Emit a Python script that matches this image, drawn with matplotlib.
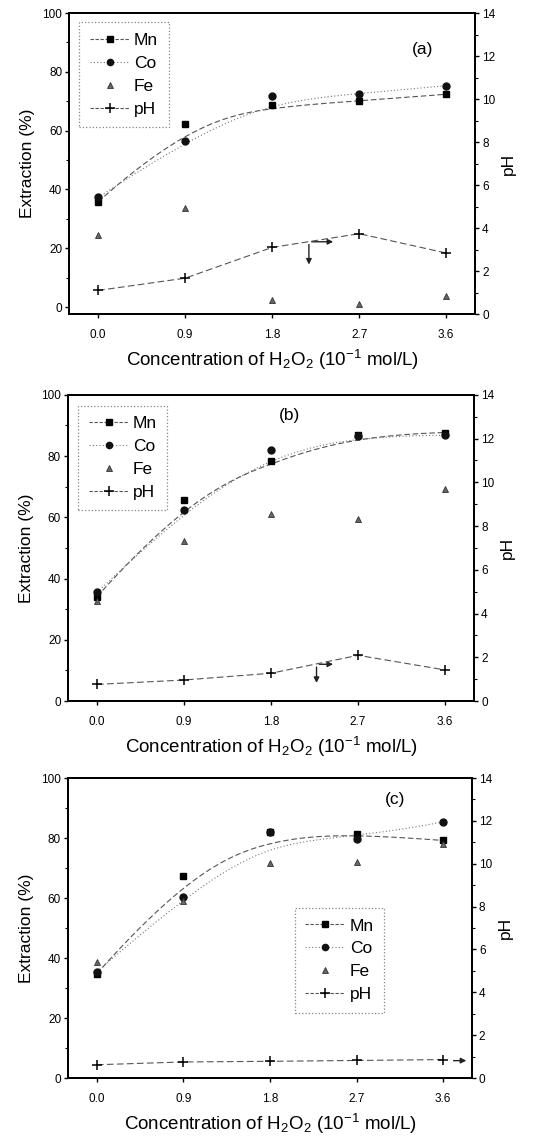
import numpy as np
import matplotlib
matplotlib.use("Agg")
import matplotlib.pyplot as plt
from matplotlib.lines import Line2D

plt.rcParams['font.family'] = ['Liberation Sans', 'DejaVu Sans']
plt.rcParams['mathtext.fontset'] = 'custom'
plt.rcParams['mathtext.rm'] = 'Liberation Sans'
plt.rcParams['mathtext.it'] = 'Liberation Sans:italic'

# H2O2 concentration (10^-1 mol/L)
conc = [0.0, 0.9, 1.8, 2.7, 3.6]

# panel (a)
mn_a = [35.8, 62.2, 68.8, 70.0, 72.4]
co_a = [37.3, 56.6, 71.7, 72.4, 75.3]
fe_a = [24.4, 33.6, 2.4, 1.1, 3.6]
ph_a = [1.10, 1.67, 3.10, 3.74, 2.84]

# panel (b)
mn_b = [34.1, 65.8, 78.5, 86.9, 87.7]
co_b = [35.5, 62.5, 81.9, 86.6, 86.8]
fe_b = [32.8, 52.2, 61.2, 59.3, 69.2]
ph_b = [0.76, 0.96, 1.27, 2.09, 1.42]

# panel (c)
mn_c = [34.8, 67.2, 81.9, 81.3, 79.2]
co_c = [35.5, 60.2, 81.9, 79.7, 85.4]
fe_c = [38.6, 58.9, 71.7, 72.0, 78.0]
ph_c = [0.62, 0.75, 0.78, 0.82, 0.86]

panel_tags = ['(a)', '(b)', '(c)']
xticks = conc


def bspline(px, py, k=3, n=200):
    # clamped B-spline using the data points as control points (Origin style)
    px = np.asarray(px, float)
    py = np.asarray(py, float)
    m = len(px)
    knots = np.r_[[0.0] * k, np.linspace(0, 1, m - k + 1), [1.0] * k]
    t = np.linspace(0, 1, n)
    t[-1] -= 1e-9

    def N(i, p):
        if p == 0:
            return ((knots[i] <= t) & (t < knots[i + 1])).astype(float)
        a = 0.0
        b = 0.0
        if knots[i + p] != knots[i]:
            a = (t - knots[i]) / (knots[i + p] - knots[i]) * N(i, p - 1)
        if knots[i + p + 1] != knots[i + 1]:
            b = (knots[i + p + 1] - t) / (knots[i + p + 1] - knots[i + 1]) * N(i + 1, p - 1)
        return a + b

    B = np.array([N(i, k) for i in range(m)])
    return B.T @ px, B.T @ py


fig = plt.figure(figsize=(5.4, 11.38), dpi=100)
rects = [
    [0.128, 0.724, 0.752, 0.2645],
    [0.126, 0.384, 0.752, 0.269],
    [0.126, 0.0527, 0.748, 0.2636],
]
ylims = [(-2.4, 100), (0, 100), (0, 100)]
data = [
    (mn_a, co_a, fe_a, ph_a),
    (mn_b, co_b, fe_b, ph_b),
    (mn_c, co_c, fe_c, ph_c),
]
tag_pos = [(0.87, 0.878), (0.546, 0.934), (0.81, 0.928)]
leg_pos = [(0.025, 0.969), (0.025, 0.965), (0.562, 0.567)]

lc = '#555555'
arrow_kw = dict(arrowstyle='-|>', color='#222222', lw=1.0, mutation_scale=8)
for idx in range(3):
    mn, co, fe, ph = data[idx]
    ax = fig.add_axes(rects[idx])
    ax2 = ax.twinx()

    # trend curves
    bx, by = bspline(conc, mn)
    ax.plot(bx, by, color=lc, lw=0.8, ls=(0, (5, 2.5)))
    bx, by = bspline(conc, co)
    ax.plot(bx, by, color='#777777', lw=0.8, ls=(0, (1, 2)))

    ax.plot(conc, mn, 's', color='black', ms=5)
    ax.plot(conc, co, 'o', color='#111111', ms=5)
    ax.plot(conc, fe, '^', color='#666666', mec='#333333', ms=5, mew=0.6)

    ax2.plot(conc, ph, color=lc, lw=0.8, ls=(0, (6, 3)), marker='+',
             ms=7, mew=1.1, mec='black')

    ax.set_xlim(-0.3, 3.9)
    ax.set_ylim(*ylims[idx])
    ax2.set_ylim(0, 14)
    ax.set_xticks(xticks)
    ax.set_xticklabels(['%.1f' % v for v in xticks])
    ax.set_yticks(np.arange(0, 101, 20))
    ax.set_yticks(np.arange(10, 100, 20), minor=True)
    ax2.set_yticks(np.arange(0, 15, 2))
    ax2.set_yticks(np.arange(1, 14, 2), minor=True)

    for a in (ax, ax2):
        a.tick_params(axis='both', which='major', direction='out', length=3,
                      width=1, labelsize=8.5, pad=2)
        a.tick_params(axis='both', which='minor', direction='out', length=2, width=0.8)
        for s in a.spines.values():
            s.set_linewidth(1.4)
    ax.tick_params(axis='x', pad=8)

    ax.set_ylabel('Extraction (%)', fontsize=12.5, labelpad=5)
    ax2.set_ylabel('pH', fontsize=12.5, labelpad=4)
    ax.set_xlabel('Concentration of H$_2$O$_2$ (10$^{-1}$ mol/L)', fontsize=13.5, labelpad=5)

    ax.text(tag_pos[idx][0], tag_pos[idx][1], panel_tags[idx], transform=ax.transAxes,
            fontsize=12.5, ha='center', va='center')

    handles = [
        Line2D([], [], color=lc, lw=0.8, ls=(0, (3, 1.5)), marker='s', mfc='black', mec='black', ms=4.5),
        Line2D([], [], color='#777777', lw=0.8, ls=(0, (1, 2)), marker='o', mfc='#111111', mec='#111111', ms=4.5),
        Line2D([], [], ls='none', marker='^', mfc='#666666', mec='#333333', ms=4.5, mew=0.6),
        Line2D([], [], color=lc, lw=0.8, ls=(0, (3, 1.5)), marker='+', mec='black', ms=6.5, mew=1.1),
    ]
    leg = ax2.legend(handles, ['Mn', 'Co', 'Fe', 'pH'], loc='upper left',
                     bbox_to_anchor=leg_pos[idx], fontsize=12.5, frameon=True,
                     fancybox=False, handlelength=2.3, labelspacing=0.45,
                     borderpad=0.6, handletextpad=0.25, borderaxespad=0)
    fr = leg.get_frame()
    fr.set_edgecolor('#666666')
    fr.set_linestyle(':')
    fr.set_linewidth(0.9)

    # pH axis arrows
    if idx == 0:
        ax.annotate('', xy=(2.18, 13.5), xytext=(2.18, 22.2), arrowprops=arrow_kw)
        ax.annotate('', xy=(2.46, 22.2), xytext=(2.18, 22.2), arrowprops=arrow_kw)
    elif idx == 1:
        ax.annotate('', xy=(2.27, 5.0), xytext=(2.27, 12.0), arrowprops=arrow_kw)
        ax.annotate('', xy=(2.47, 12.0), xytext=(2.27, 12.0), arrowprops=arrow_kw)
    else:
        ax.annotate('', xy=(3.87, 5.8), xytext=(3.68, 5.8), arrowprops=arrow_kw)

fig.savefig('out.png', dpi=100)
